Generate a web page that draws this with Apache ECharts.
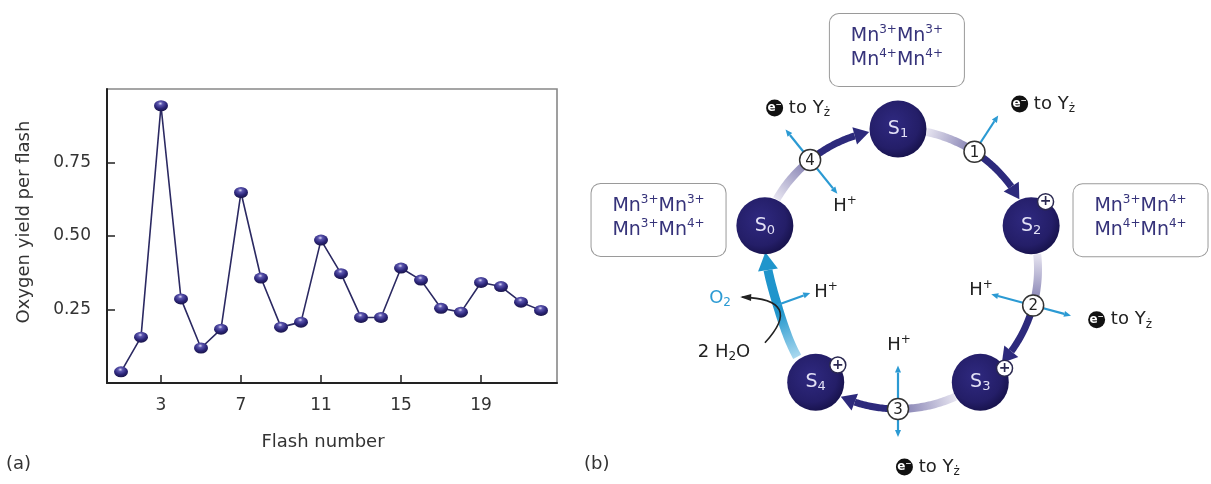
<!DOCTYPE html>
<html><head><meta charset="utf-8">
<script src="https://cdn.jsdelivr.net/npm/echarts@6/dist/echarts.min.js"></script>
<style>html,body{margin:0;padding:0;background:#fff}#c{width:1211px;height:484px}</style>
</head><body><div id="c"></div>
<script>
// ---------- Panel (a) data ----------
const flashNumbers = [1,2,3,4,5,6,7,8,9,10,11,12,13,14,15,16,17,18,19,20,21,22];
const oxygenYield  = [0.038,0.156,0.943,0.286,0.119,0.183,0.648,0.357,0.190,0.207,0.486,0.372,0.223,0.223,0.391,0.350,0.254,0.241,0.342,0.328,0.275,0.247];
const xTickValues = [3,7,11,15,19];
const yTickValues = [0.25,0.50,0.75];
const xAxisTitle = 'Flash number';
const yAxisTitle = 'Oxygen yield per flash';

// ---------- Panel (b) data ----------
const states = ['S0','S1','S2','S3','S4'];
const stateSubscripts = ['0','1','2','3','4'];
const stateHasCharge = [false,false,true,true,true];
const mnBoxStates = [0,1,2];
const mnIons = [['3+','3+','3+','4+'],['3+','3+','4+','4+'],['3+','4+','4+','4+']];
const flashLabels = ['4','1','2','3',''];          // transition from state i to state i+1
const releasesElectron = [true,true,true,true,false];
const releasesProton  = [true,false,true,true,true];
const releasesO2      = [false,false,false,false,true];

// ---------- layout (polar units: [radius, step position]) ----------
const L = {
  edge: 0.165,
  numberV: [0.46,1.46,2.46,3.5],
  eArrowR: [1.28,1.31,1.28,1.20],
  hArrowR: 0.69,
  eLabel: [[1.354,0.558],[1.569,1.574],[1.627,2.429],[1.43,3.381]],
  hLabel: [[0.588,0.443],null,[0.611,2.447],[0.543,3.489],[0.54,4.504]],
  mnBox: [[1.746,4.911],[1.564,0.996],[1.767,2.092]],
  o2Label: [1.288,4.621],
  h2oLabel: [1.377,4.396],
  badgeAngle: [0,0,59,30,38]
};

const FONT = 'DejaVu Sans';
const CYAN = '#2b9ad3';
const NAVY = '#2d2a7c';

const chart = echarts.init(document.getElementById('c'), null, {renderer:'canvas'});

function arrowSplit(pts, len){
  let acc = 0;
  for (let k = pts.length-1; k > 0; k--) {
    const a = pts[k-1], b = pts[k];
    const s = Math.hypot(b[0]-a[0], b[1]-a[1]);
    if (acc + s >= len) {
      const f = (len-acc)/s;
      const p = [b[0]+(a[0]-b[0])*f, b[1]+(a[1]-b[1])*f];
      return {shaft: pts.slice(0,k).concat([p]), base: p};
    }
    acc += s;
  }
  return {shaft:[pts[0]], base: pts[0]};
}
function headPoly(base, tip, wid, color){
  const dx = tip[0]-base[0], dy = tip[1]-base[1], d = Math.hypot(dx,dy)||1;
  const nx = -dy/d, ny = dx/d;
  return {type:'polygon', shape:{points:[tip,[base[0]+nx*wid/2, base[1]+ny*wid/2],[base[0]-nx*wid/2, base[1]-ny*wid/2]]}, style:{fill:color}};
}
function smallArrow(p0, p1, color, lw, hl, hw){
  const s = arrowSplit([p0,p1], hl);
  return [
    {type:'polyline', shape:{points:s.shaft}, style:{stroke:color, lineWidth:lw, fill:null}},
    headPoly(s.base, p1, hw, color)
  ];
}

function renderCycle(params, api){
  const i = params.dataIndex;
  const P = (r, v) => api.coord([r, v]);
  const arc = (v0, v1, rf, n) => { n = n||40; const pts=[]; for(let k=0;k<=n;k++){const t=k/n; pts.push(P(rf(t), v0+(v1-v0)*t));} return pts; };
  const ch = [];
  if (!releasesO2[i]) {
    const nv = L.numberV[i];
    const band = arc(i+L.edge, nv, ()=>1, 30);
    const b0 = band[0], b1 = band[band.length-1];
    ch.push({type:'polyline', shape:{points:band}, style:{fill:null, lineWidth:8,
      stroke:{type:'linear', global:true, x:b0[0], y:b0[1], x2:b1[0], y2:b1[1],
        colorStops:[{offset:0,color:'#e6e4f0'},{offset:1,color:'#7c78ad'}]}}});
    const ap = arc(nv, i+1-L.edge, ()=>1, 40);
    const sp = arrowSplit(ap, 15);
    ch.push({type:'polyline', shape:{points:sp.shaft}, style:{fill:null, lineWidth:7, stroke:NAVY}});
    ch.push(headPoly(sp.base, ap[ap.length-1], 18, NAVY));
    if (releasesElectron[i]) ch.push(...smallArrow(P(1.0, nv), P(L.eArrowR[i], nv), CYAN, 2.2, 7, 6));
    if (releasesProton[i])   ch.push(...smallArrow(P(1.0, nv), P(L.hArrowR, nv), CYAN, 2.2, 7, 6));
    const c = P(1, nv);
    ch.push({type:'circle', shape:{cx:c[0], cy:c[1], r:10.5}, style:{fill:'#fff', stroke:'#333', lineWidth:1.5}});
    ch.push({type:'text', x:c[0], y:c[1]+1, style:{text:flashLabels[i], fill:'#222', font:'15px '+FONT, align:'center', verticalAlign:'middle'}});
  } else {
    const cp = arc(i+0.18, i+1-0.15, t=>0.955-0.055*Math.sin(Math.PI*t), 50);
    const sp = arrowSplit(cp, 18);
    const c0 = cp[0], c1 = cp[Math.floor(cp.length*0.45)];
    ch.push({type:'polyline', shape:{points:sp.shaft}, style:{fill:null, lineWidth:9,
      stroke:{type:'linear', global:true, x:c0[0], y:c0[1], x2:c1[0], y2:c1[1],
        colorStops:[{offset:0,color:'#a9d8ef'},{offset:1,color:'#1f95cc'}]}}});
    ch.push(headPoly(sp.base, cp[cp.length-1], 20, '#1f95cc'));
    const p0 = P(1.087, 4.347), pc = P(0.70, 4.50), p2 = P(1.131, 4.608);
    ch.push({type:'bezierCurve', shape:{x1:p0[0], y1:p0[1], cpx1:pc[0], cpy1:pc[1], x2:p2[0], y2:p2[1]}, style:{stroke:'#222', lineWidth:1.6, fill:null}});
    const dx = p2[0]-pc[0], dy = p2[1]-pc[1], d = Math.hypot(dx,dy);
    ch.push(headPoly([p2[0]-dx/d*9, p2[1]-dy/d*9], [p2[0]+dx/d*2, p2[1]+dy/d*2], 7, '#222'));
    if (releasesProton[i]) ch.push(...smallArrow(P(0.90, 4.52), P(0.65, 4.537), CYAN, 2.2, 7, 6));
  }
  return {type:'group', children: ch};
}

function renderBadges(params, api){
  const i = params.dataIndex;
  if (!stateHasCharge[i]) return {type:'group', children:[]};
  const c = api.coord([1, i]);
  const a = L.badgeAngle[i]*Math.PI/180;
  const x = c[0] + 28*Math.cos(a), y = c[1] - 28*Math.sin(a);
  return {type:'group', children:[
    {type:'circle', shape:{cx:x, cy:y, r:8}, style:{fill:'#fff', stroke:'#2a2850', lineWidth:1.5}},
    {type:'text', x:x, y:y, style:{text:'+', fill:'#2a2850', font:'bold 14px '+FONT, align:'center', verticalAlign:'middle'}}
  ]};
}

const richBase = {
  t:   {fontFamily:FONT, fontSize:18, color:'#222', lineHeight:22},
  sup: {fontFamily:FONT, fontSize:12, color:'#222', verticalAlign:'top', lineHeight:12},
  sub: {fontFamily:FONT, fontSize:12, color:'#222', verticalAlign:'bottom', lineHeight:12},
  eb:  {fontFamily:FONT, fontSize:12, fontWeight:'bold', color:'#fff', backgroundColor:'#111', borderRadius:9, width:17, height:17, lineHeight:17, align:'center'},
  mn:  {fontFamily:FONT, fontSize:19, color:'#36337a', lineHeight:24},
  mnsup:{fontFamily:FONT, fontSize:12, color:'#36337a', verticalAlign:'top', lineHeight:14},
  o2:  {fontFamily:FONT, fontSize:18, color:CYAN, lineHeight:22},
  o2sub:{fontFamily:FONT, fontSize:12, color:CYAN, verticalAlign:'bottom', lineHeight:12}
};
const eText = '{eb|e\u207B}{t| to Y}{sub|\u017C}';
const hText = '{t|H}{sup|+}';
function mnText(ions){
  return '{mn|Mn}{mnsup|'+ions[0]+'}{mn|Mn}{mnsup|'+ions[1]+'}\n{mn|Mn}{mnsup|'+ions[2]+'}{mn|Mn}{mnsup|'+ions[3]+'}';
}

const annotations = [];
releasesElectron.forEach((e,i)=>{ if (e) annotations.push({value:L.eLabel[i], label:{formatter:eText}}); });
releasesProton.forEach((h,i)=>{ if (h) annotations.push({value:L.hLabel[i], label:{formatter:hText}}); });
annotations.push({value:L.o2Label, label:{formatter:'{o2|O}{o2sub|2}'}});
annotations.push({value:L.h2oLabel, label:{formatter:'{t|2 H}{sub|2}{t|O}'}});
mnBoxStates.forEach((s,k)=>annotations.push({value:L.mnBox[k], label:{
  formatter: mnText(mnIons[k]), backgroundColor:'#fff', borderColor:'#9a9a9a', borderWidth:1,
  borderRadius:9, padding:[10,10,10,10], width:114, height:52, align:'center', verticalAlign:'middle'}}));

const option = {
  animation:false,
  backgroundColor:'#fff',
  textStyle:{fontFamily:FONT},
  grid:{left:107, top:89, width:450, height:294, show:true, borderColor:'#888', borderWidth:1.6, backgroundColor:'transparent'},
  xAxis:{type:'value', min:0.3, max:22.8,
    name:xAxisTitle, nameLocation:'middle', nameGap:50,
    nameTextStyle:{fontFamily:FONT, fontSize:18, color:'#333', padding:[0,18,0,0]},
    axisLine:{show:true, lineStyle:{color:'#222', width:2}},
    axisTick:{show:true, inside:true, length:8, customValues:xTickValues, lineStyle:{color:'#222', width:1.5}},
    axisLabel:{customValues:xTickValues, margin:14, fontFamily:FONT, fontSize:17, color:'#333'},
    splitLine:{show:false}},
  yAxis:{type:'value', min:0, max:1,
    name:yAxisTitle, nameLocation:'middle', nameGap:74, nameRotate:90,
    nameTextStyle:{fontFamily:FONT, fontSize:18, color:'#333', padding:[0,0,0,28]},
    axisLine:{show:true, lineStyle:{color:'#222', width:2}},
    axisTick:{show:true, inside:true, length:8, customValues:yTickValues, lineStyle:{color:'#222', width:1.5}},
    axisLabel:{customValues:yTickValues, margin:16, fontFamily:FONT, fontSize:17, color:'#333', formatter:v=>v.toFixed(2)},
    splitLine:{show:false}},
  polar:{center:[898,269], radius:280},
  radiusAxis:{type:'value', min:0, max:2, show:false, axisLine:{show:false}, axisTick:{show:false}, axisLabel:{show:false}, splitLine:{show:false}},
  angleAxis:{type:'value', min:0, max:5, startAngle:162, clockwise:true, show:false, axisLine:{show:false}, axisTick:{show:false}, axisLabel:{show:false}, splitLine:{show:false}},
  graphic:[
    {type:'text', left:6, top:455, style:{text:'(a)', font:'18px '+FONT, fill:'#333'}},
    {type:'text', left:584, top:455, style:{text:'(b)', font:'18px '+FONT, fill:'#333'}}
  ],
  series:[
    {type:'line', xAxisIndex:0, yAxisIndex:0,
      data: flashNumbers.map((f,i)=>[f, oxygenYield[i]]),
      lineStyle:{color:'#2b2962', width:1.6},
      symbol:'circle', symbolSize:[14,11],
      itemStyle:{opacity:1, color:{type:'radial', x:0.45, y:0.3, r:0.75, colorStops:[
        {offset:0,color:'#dcdaf6'},{offset:0.22,color:'#5b55ae'},{offset:0.6,color:'#2b2578'},{offset:1,color:'#15113f'}]},
        borderWidth:0},
      z:3},
    {type:'custom', coordinateSystem:'polar', polarIndex:0, renderItem:renderCycle,
      data: flashLabels.map((f,i)=>[1, i+0.5]), z:2},
    {type:'scatter', coordinateSystem:'polar', polarIndex:0,
      data: states.map((s,i)=>[1, i]), symbol:'circle', symbolSize:57,
      itemStyle:{opacity:1, color:{type:'radial', x:0.42, y:0.4, r:0.6, colorStops:[
        {offset:0,color:'#2f2980'},{offset:0.75,color:'#241e68'},{offset:1,color:'#191450'}]}},
      label:{show:true, position:'inside', formatter:p=>'{s|S}{ss|'+stateSubscripts[p.dataIndex]+'}',
        rich:{s:{fontFamily:FONT, fontSize:19, color:'#e2e0f5', lineHeight:22},
              ss:{fontFamily:FONT, fontSize:13, color:'#e2e0f5', verticalAlign:'bottom', lineHeight:13}}},
      z:4},
    {type:'custom', coordinateSystem:'polar', polarIndex:0, renderItem:renderBadges,
      data: states.map((s,i)=>[1, i]), z:5},
    {type:'scatter', coordinateSystem:'polar', polarIndex:0,
      data: annotations, symbol:'circle', symbolSize:1, itemStyle:{opacity:1, color:'rgba(0,0,0,0)'},
      label:{show:true, position:'inside', rich:richBase, align:'center', verticalAlign:'middle'},
      z:6}
  ]
};
chart.setOption(option);
</script></body></html>
